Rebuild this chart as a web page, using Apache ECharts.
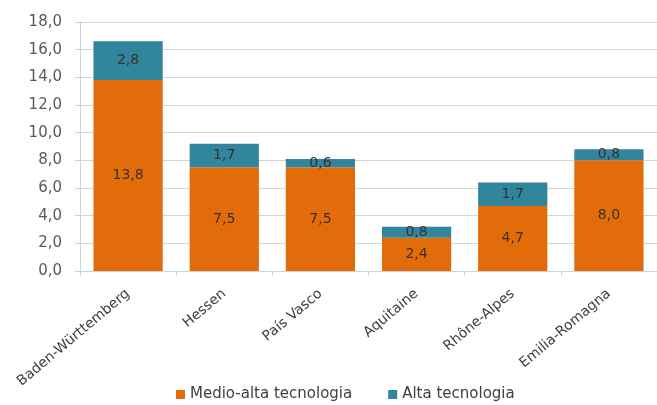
<!DOCTYPE html>
<html>
<head>
<meta charset="utf-8">
<script src="https://cdn.jsdelivr.net/npm/echarts@6/dist/echarts.min.js"></script>
<style>
  html, body { margin: 0; padding: 0; background: #fff; }
  #chart { width: 657px; height: 405px; }
</style>
</head>
<body>
<div id="chart"></div>
<script>
const regions = ['Baden-Württemberg', 'Hessen', 'País Vasco', 'Aquitaine', 'Rhône-Alpes', 'Emilia-Romagna']
const medioAlta = [13.8, 7.5, 7.5, 2.4, 4.7, 8.0]
const alta = [2.8, 1.7, 0.6, 0.8, 1.7, 0.8]

const fmt = v => v.toFixed(1).replace('.', ',')
const font = '"DejaVu Sans", sans-serif'

const chart = echarts.init(document.getElementById('chart'))

function barSeries(name, data, color) {
  return {
    name,
    type: 'bar',
    stack: 'total',
    data,
    barCategoryGap: '28%',
    itemStyle: { color },
    label: {
      show: true,
      position: 'inside',
      color: '#3a3030',
      fontFamily: font,
      fontSize: 14,
      formatter: p => fmt(p.value)
    }
  }
}

chart.setOption({
  animation: false,
  grid: { left: 80, right: -7, top: 22, bottom: 134 },
  legend: {
    top: 382,
    left: 171,
    itemWidth: 9,
    itemHeight: 9,
    itemGap: 36,
    icon: 'rect',
    textStyle: { fontFamily: font, fontSize: 15, color: '#404040' },
    data: ['Medio-alta tecnologia', 'Alta tecnologia']
  },
  xAxis: {
    type: 'category',
    data: regions,
    axisLine: { lineStyle: { color: '#c8d4dc' } },
    axisTick: { show: true, length: 5, lineStyle: { color: '#c8d4dc' } },
    axisLabel: {
      rotate: 40,
      margin: 21,
      fontFamily: font,
      fontSize: 14,
      color: '#404040'
    }
  },
  yAxis: {
    type: 'value',
    min: 0,
    max: 18,
    interval: 2,
    axisLine: { show: true, lineStyle: { color: '#c8d4dc' } },
    axisTick: { show: true, length: 5, lineStyle: { color: '#c8d4dc' } },
    splitLine: { lineStyle: { color: '#d4d4d4' } },
    axisLabel: {
      margin: 18,
      fontFamily: font,
      fontSize: 15,
      color: '#595959',
      formatter: v => fmt(v)
    }
  },
  series: [
    barSeries('Medio-alta tecnologia', medioAlta, '#e36c0a'),
    barSeries('Alta tecnologia', alta, '#31859c')
  ]
})
</script>
</body>
</html>
